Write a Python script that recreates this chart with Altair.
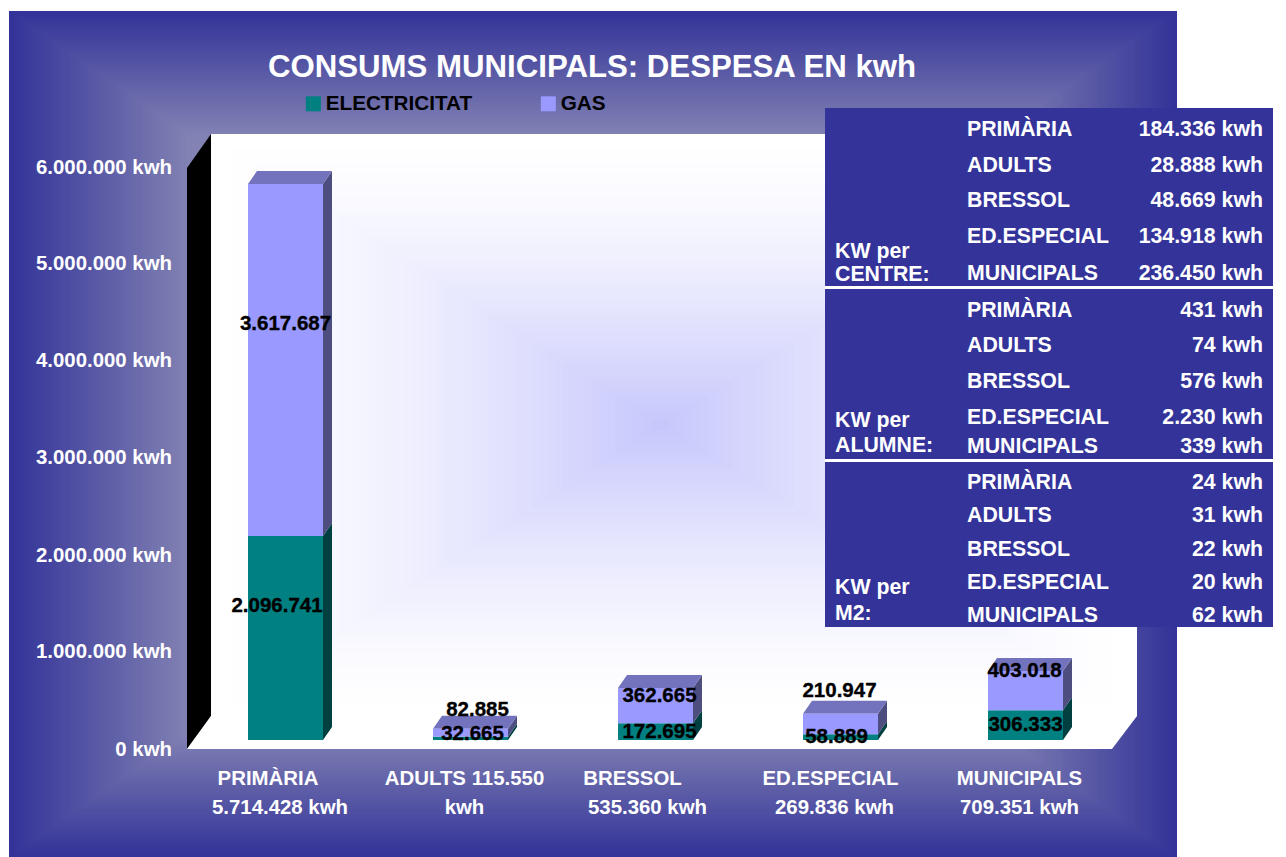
import altair as alt
import pandas as pd

FONT = "Liberation Sans"
W, H = 1270, 849
OX, OY = 8, 8  # page margin

# ---- data ----
categories = ["PRIMÀRIA", "ADULTS", "BRESSOL", "ED.ESPECIAL", "MUNICIPALS"]
electricitat = [2096741, 32665, 172695, 58889, 306333]
gas = [3617687, 82885, 362665, 210947, 403018]
y_ticks = [0, 1000000, 2000000, 3000000, 4000000, 5000000, 6000000]
cat_line1 = ["PRIMÀRIA", "ADULTS 115.550", "BRESSOL", "ED.ESPECIAL", "MUNICIPALS"]
cat_line2 = ["5.714.428 kwh", "kwh", "535.360 kwh", "269.836 kwh", "709.351 kwh"]
table_names = ["PRIMÀRIA", "ADULTS", "BRESSOL", "ED.ESPECIAL", "MUNICIPALS"]
per_centre = ["184.336 kwh", "28.888 kwh", "48.669 kwh", "134.918 kwh", "236.450 kwh"]
per_alumne = ["431 kwh", "74 kwh", "576 kwh", "2.230 kwh", "339 kwh"]
per_m2 = ["24 kwh", "31 kwh", "22 kwh", "20 kwh", "62 kwh"]

# ---- layout ----
PX_PER_UNIT = 97.3e-6
BASE_PX = 740 - OY
SPACING = 185.0
FIRST_PX = 285.5 - OX
y_domain = [-(H - BASE_PX) / PX_PER_UNIT, BASE_PX / PX_PER_UNIT]
x_domain = [-FIRST_PX / SPACING, (W - FIRST_PX) / SPACING]
HW = 37.5 / SPACING
DX = 9.0 / SPACING
DY = 13.0 / PX_PER_UNIT
xs = alt.Scale(domain=x_domain, range=[0, W], nice=False, zero=False)
ys = alt.Scale(domain=y_domain, range=[H, 0], nice=False, zero=False)
TEAL, PERI = "#008080", "#9999ff"
SIDE = {"ELECTRICITAT": "#004040", "GAS": "#4d4d80"}
NAVY = "#333399"


def mix(a, b, t):
    ca = [int(a[i:i + 2], 16) for i in (1, 3, 5)]
    cb = [int(b[i:i + 2], 16) for i in (1, 3, 5)]
    return "#" + "".join(f"{round(p + (q - p) * t):02x}" for p, q in zip(ca, cb))


# ---- background box gradients (identity pixel coordinates) ----
rows = []
N = 60
for k in range(N):
    t = k / N
    rows.append(dict(x=9 - OX + 178 * t * 1.02, x2=1177 - OX - 178 * t * 1.02,
                     y=11 - OY + 123 * t * 1.02, y2=857 - OY - 123 * t * 1.02,
                     c=mix(NAVY, "#8383b4", t)))
for k in range(N):
    t = k / N
    rows.append(dict(x=211 - OX + 449 * t, x2=1137 - OX - 477 * t,
                     y=134 - OY + 291 * t, y2=716 - OY - 291 * t,
                     c=mix("#ffffff", "#c6c6fc", t ** 1.5)))
bg_df = pd.DataFrame(rows)
px = lambda f: alt.X(f, type="quantitative", scale=None)
py = lambda f: alt.Y(f, type="quantitative", scale=None)
bg = alt.Chart(bg_df).mark_rect(strokeWidth=0).encode(
    x=px("x"), x2="x2:Q", y=py("y"), y2="y2:Q", color=alt.Color("c:N", scale=None),
    order=alt.Order("rn:Q"),
).transform_window(rn="row_number()")

# left wall and floor
shape_df = pd.DataFrame([
    dict(s="wall", x=187 - OX, y=168 - OY, y2=749 - OY, c="#000000"),
    dict(s="wall", x=211 - OX, y=134 - OY, y2=716 - OY, c="#000000"),
    dict(s="floor", x=187 - OX, y=749 - OY, y2=749 - OY, c="#ffffff"),
    dict(s="floor", x=211 - OX, y=716 - OY, y2=749 - OY, c="#ffffff"),
    dict(s="floor", x=1112 - OX, y=716 - OY, y2=749 - OY, c="#ffffff"),
    dict(s="floor", x=1137 - OX, y=716 - OY, y2=716 - OY, c="#ffffff"),
])
shapes = alt.Chart(shape_df).mark_area(strokeWidth=0, interpolate="linear").encode(
    x=px("x"), y=py("y"), y2="y2:Q", color=alt.Color("c:N", scale=None),
    detail="s:N",
)

# ---- 3D bars: data-derived through the scales ----
bars, faces = [], []
for i, cat in enumerate(categories):
    e, g = electricitat[i], gas[i]
    for name, lo, hi in (("ELECTRICITAT", 0, e), ("GAS", e, e + g)):
        bars.append(dict(cat=cat, serie=name, x=i - HW, x2=i + HW, lo=lo, hi=hi))
        fid = f"{cat}-{name}"
        faces.append(dict(f=fid, x=i + HW, y=lo, y2=hi, c=SIDE[name]))
        faces.append(dict(f=fid, x=i + HW + DX, y=lo + DY, y2=hi + DY, c=SIDE[name]))
    top = e + g
    fid = f"{cat}-top"
    faces.append(dict(f=fid, x=i - HW, y=top, y2=top, c="#7373bd"))
    faces.append(dict(f=fid, x=i - HW + DX, y=top, y2=top + DY, c="#7373bd"))
    faces.append(dict(f=fid, x=i + HW, y=top, y2=top + DY, c="#7373bd"))
    faces.append(dict(f=fid, x=i + HW + DX, y=top + DY, y2=top + DY, c="#7373bd"))
bars_df = pd.DataFrame(bars)
faces_df = pd.DataFrame(faces)

front = alt.Chart(bars_df).mark_rect(strokeWidth=0).encode(
    x=alt.X("x:Q", scale=xs, axis=None),
    x2="x2:Q",
    y=alt.Y("lo:Q", scale=ys, axis=None),
    y2="hi:Q",
    color=alt.Color(
        "serie:N",
        scale=alt.Scale(domain=["ELECTRICITAT", "GAS"], range=[TEAL, PERI]),
        legend=alt.Legend(
            orient="none", legendX=303 - OX, legendY=93 - OY, direction="horizontal", columns=2,
            title=None, labelFont=FONT, labelFontWeight="bold", labelFontSize=20.7,
            labelColor="#000000", symbolType="square", symbolSize=225, symbolStrokeWidth=0,
            labelOffset=2, columnPadding=65, gridAlign="each",
        ),
    ),
)
side_top = alt.Chart(faces_df).mark_area(strokeWidth=0, interpolate="linear").encode(
    x=alt.X("x:Q", scale=xs, axis=None),
    y=alt.Y("y:Q", scale=ys, axis=None),
    y2="y2:Q",
    fill=alt.Fill("c:N", scale=None),
    detail="f:N",
)

fmt = lambda v: f"{v:,}".replace(",", ".")

# value-axis tick labels: placed through the value scale, shifted to the chart's front plane
tick_shift = [10, 9.3, 10.6, 10, 10, 10.5, 11.8]
tick_df = pd.DataFrame(dict(
    v=[t - s / PX_PER_UNIT for t, s in zip(y_ticks, tick_shift)],
    t=[fmt(t) + " kwh" for t in y_ticks],
    x=[172 - OX] * len(y_ticks),
))
tick_text = alt.Chart(tick_df).mark_text(
    font=FONT, fontWeight="bold", fontSize=20.4, color="#ffffff", align="right", baseline="middle"
).encode(x=px("x"), y=alt.Y("v:Q", scale=ys, axis=None), text="t:N")

# value labels: segment centre plus a shift in pixels
shift_e = [(-8.5, -32), (2, -4), (4, 0), (-4, 0), (0, 0)]
shift_g = [(0, -36), (7, -23), (4, -10), (-1, -33), (-1, -20)]
labels = []
for i in range(5):
    e, g = electricitat[i], gas[i]
    labels.append(dict(x=i + shift_e[i][0] / SPACING, y=e / 2 - shift_e[i][1] / PX_PER_UNIT, t=fmt(e)))
    labels.append(dict(x=i + shift_g[i][0] / SPACING, y=e + g / 2 - shift_g[i][1] / PX_PER_UNIT, t=fmt(g)))
value_text = alt.Chart(pd.DataFrame(labels)).mark_text(
    font=FONT, fontWeight="bold", fontSize=20.5, color="#000000", align="center", baseline="middle",
    stroke="#000000", strokeWidth=0.35,
).encode(
    x=alt.X("x:Q", scale=xs, axis=None), y=alt.Y("y:Q", scale=ys, axis=None), text="t:N"
)

# category labels under the floor
cat_rows = []
shift1 = [-17.5, -6, -23, -10, -6]
shift2 = [-5.5, -6, -8, -6, -6]
for i in range(5):
    cat_rows.append(dict(x=i + shift1[i] / SPACING, y=779 - OY, t=cat_line1[i]))
    cat_rows.append(dict(x=i + shift2[i] / SPACING, y=808 - OY, t=cat_line2[i]))
cat_text = alt.Chart(pd.DataFrame(cat_rows)).mark_text(
    font=FONT, fontWeight="bold", fontSize=20.4, color="#ffffff", align="center", baseline="middle"
).encode(x=alt.X("x:Q", scale=xs, axis=None), y=py("y"), text="t:N")

# ---- right table ----
panel_df = pd.DataFrame([
    dict(x=825 - OX, x2=1273 - OX, y=108 - OY, y2=627 - OY, c=NAVY),
    dict(x=825 - OX, x2=1273 - OX, y=286 - OY, y2=289 - OY, c="#ffffff"),
    dict(x=825 - OX, x2=1273 - OX, y=459 - OY, y2=462 - OY, c="#ffffff"),
])
panel = alt.Chart(panel_df).mark_rect(strokeWidth=0).encode(
    x=px("x"), x2="x2:Q", y=py("y"), y2="y2:Q", color=alt.Color("c:N", scale=None),
    order=alt.Order("rn:Q"),
).transform_window(rn="row_number()")

row_y = [130, 166, 201, 237, 274, 311, 346, 382, 418, 447, 483, 516, 550, 583, 616]
names = table_names * 3
vals = per_centre + per_alumne + per_m2
name_df = pd.DataFrame(dict(x=[967 - OX] * 15, y=[v - OY for v in row_y], t=names))
val_df = pd.DataFrame(dict(x=[1263 - OX] * 15, y=[v - OY for v in row_y], t=vals))
head_df = pd.DataFrame(dict(
    x=[835 - OX] * 6,
    y=[v - OY for v in (252, 275, 421, 446, 588, 614)],
    t=["KW per", "CENTRE:", "KW per", "ALUMNE:", "KW per", "M2:"],
))
tt = dict(font=FONT, fontWeight="bold", fontSize=21.3, color="#ffffff", baseline="middle")
t_names = alt.Chart(name_df).mark_text(align="left", **tt).encode(x=px("x"), y=py("y"), text="t:N")
t_vals = alt.Chart(val_df).mark_text(align="right", **tt).encode(x=px("x"), y=py("y"), text="t:N")
t_head = alt.Chart(head_df).mark_text(align="left", **tt).encode(x=px("x"), y=py("y"), text="t:N")

chart = alt.layer(
    bg, shapes, side_top, front, tick_text, value_text, cat_text, panel, t_names, t_vals, t_head
).properties(
    width=W, height=H,
    padding=0,
    autosize=alt.AutoSizeParams(type="none"),
    background="#ffffff",
    title=alt.TitleParams(
        "CONSUMS MUNICIPALS: DESPESA EN kwh", font=FONT, fontWeight="bold", fontSize=31.2,
        color="#ffffff", anchor="middle", frame="group", orient="top", offset=-91,
        baseline="middle", dx=-51,
    ),
).configure_view(stroke=None)

chart.save("out.html", embed_options={"renderer": "svg", "actions": False})
